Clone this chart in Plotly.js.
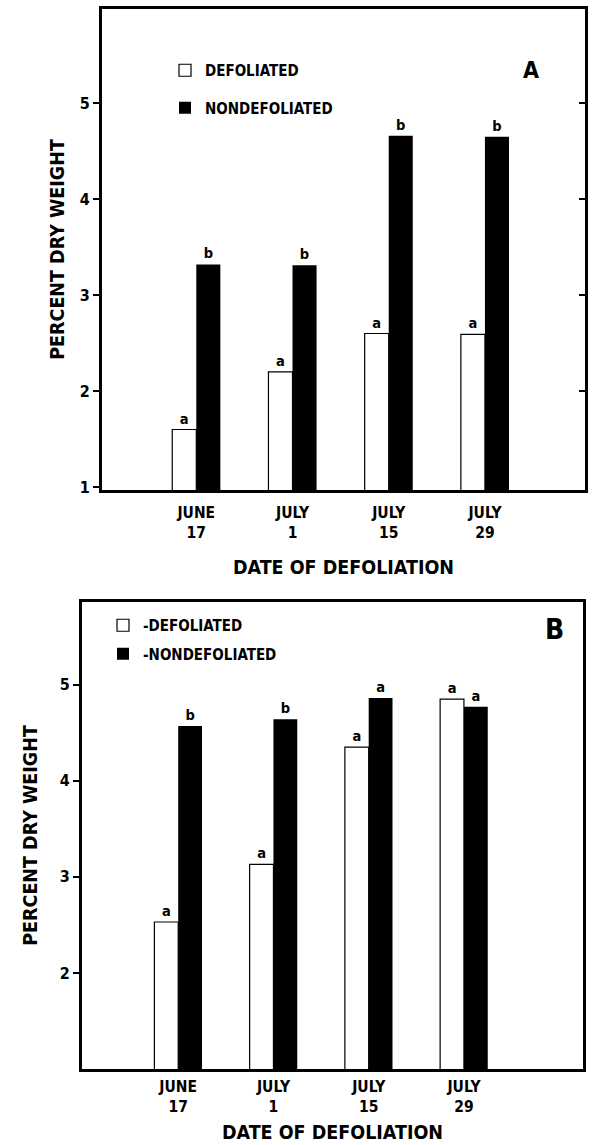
<!DOCTYPE html>
<html>
<head>
<meta charset="utf-8">
<script src="https://cdn.plot.ly/plotly-3.0.1.min.js"></script>
<style>
  html, body { margin: 0; padding: 0; background: #fff; }
  #chart { width: 598px; height: 1145px; }
</style>
</head>
<body>
<div id="chart"></div>
<script>
// ---- data ----
const categories = ["JUNE<br>17", "JULY<br>1", "JULY<br>15", "JULY<br>29"];

const defoliatedA = [1.60, 2.20, 2.60, 2.59];
const nondefoliatedA = [3.32, 3.31, 4.66, 4.65];
const lettersDefoliatedA = ["a", "a", "a", "a"];
const lettersNondefoliatedA = ["b", "b", "b", "b"];

const defoliatedB = [2.53, 3.13, 4.35, 4.85];
const nondefoliatedB = [4.57, 4.64, 4.86, 4.77];
const lettersDefoliatedB = ["a", "a", "a", "a"];
const lettersNondefoliatedB = ["b", "b", "a", "a"];

const yTicksA = [1, 2, 3, 4, 5];
const yTicksB = [2, 3, 4, 5];
const yInnerTicksA = [2, 3, 4, 5];

const legendNamesA = ["DEFOLIATED", "NONDEFOLIATED"];
const legendNamesB = ["-DEFOLIATED", "-NONDEFOLIATED"];

// ---- styling ----
const FONT = "'Liberation Sans Narrow', 'DejaVu Sans Condensed', 'Arial Narrow', sans-serif";
const INK = "#000";

function barTrace(name, y, letters, filled, xa, ya, legend, group) {
  return {
    type: "bar",
    name: name,
    x: categories,
    y: y,
    text: letters,
    textposition: "outside",
    cliponaxis: false,
    textfont: { family: FONT, size: 14.5, color: INK, weight: "bold" },
    marker: {
      color: filled ? INK : "#fff",
      line: { color: INK, width: filled ? 0 : 1.2 }
    },
    xaxis: xa,
    yaxis: ya,
    legend: legend,
    legendgroup: group,
    hoverinfo: "skip"
  };
}

const data = [
  barTrace(legendNamesA[0], defoliatedA, lettersDefoliatedA, false, "x", "y", "legend", "a1"),
  barTrace(legendNamesA[1], nondefoliatedA, lettersNondefoliatedA, true, "x", "y", "legend", "a2"),
  barTrace(legendNamesB[0], defoliatedB, lettersDefoliatedB, false, "x2", "y2", "legend2", "b1"),
  barTrace(legendNamesB[1], nondefoliatedB, lettersNondefoliatedB, true, "x2", "y2", "legend2", "b2"),
  // empty carrier so the inner right-hand tick axis of panel A is drawn
  { type: "scatter", mode: "markers", x: [], y: [], xaxis: "x", yaxis: "y3",
    showlegend: false, hoverinfo: "skip" }
];

const xTickFont = { family: FONT, size: 15.5, color: INK, weight: "bold" };
const yTickFont = { family: FONT, size: 16, color: INK, weight: "bold" };
const titleFont = { family: FONT, size: 19.5, color: INK, weight: "bold" };

function xAxis(domain, range, anchor, labelStandoff, titleStandoff) {
  return {
    domain: domain, range: range, anchor: anchor,
    type: "category",
    showline: true, mirror: true, linewidth: 3, linecolor: INK,
    showgrid: false, zeroline: false,
    ticks: "", ticklabelstandoff: labelStandoff,
    tickfont: xTickFont,
    title: { text: "DATE OF DEFOLIATION", font: titleFont, standoff: titleStandoff },
    fixedrange: true
  };
}
function yAxis(domain, range, anchor, tickvals, titleStandoff) {
  return {
    domain: domain, range: range, anchor: anchor,
    showline: true, mirror: true, linewidth: 3, linecolor: INK,
    showgrid: false, zeroline: false,
    tickvals: tickvals, ticktext: tickvals.map(String),
    ticks: "outside", ticklen: 6, tickwidth: 2, tickcolor: INK,
    tickfont: yTickFont,
    title: { text: "PERCENT DRY WEIGHT", font: titleFont, standoff: titleStandoff },
    fixedrange: true
  };
}

const H = 1145, W = 598;
const legendFont = { family: FONT, size: 15, color: INK, weight: "bold" };
const layout = {
  width: W, height: H,
  margin: { l: 0, r: 0, t: 0, b: 0 },
  paper_bgcolor: "#fff", plot_bgcolor: "#fff",
  barmode: "group", bargap: 0.5, bargroupgap: 0,
  showlegend: true,
  font: { family: FONT, color: INK },
  xaxis: xAxis([102 / W, 585 / W], [-0.98, 4.04], "y", 6, 20),
  yaxis: yAxis([1 - 490 / H, 1 - 9 / H], [0.97, 5.98], "x", yTicksA, 10),
  yaxis3: {
    overlaying: "y", anchor: "x", side: "right",
    range: [0.97, 5.98], tickvals: yInnerTicksA, ticktext: yInnerTicksA.map(String),
    ticks: "inside", ticklen: 6, tickwidth: 2, tickcolor: INK,
    showticklabels: false, showline: false, showgrid: false, zeroline: false,
    fixedrange: true
  },
  xaxis2: xAxis([82 / W, 583 / W], [-1.01, 4.25], "y2", 1, 11),
  yaxis2: yAxis([1 - 1069 / H, 1 - 602 / H], [1.0, 5.86], "x2", yTicksB, 17),
  legend: {
    x: 165 / W, y: 1 - 54 / H, xanchor: "left", yanchor: "top",
    bgcolor: "rgba(0,0,0,0)", borderwidth: 0,
    font: legendFont,
    tracegroupgap: 15, traceorder: "grouped"
  },
  legend2: {
    x: 103 / W, y: 1 - 609 / H, xanchor: "left", yanchor: "top",
    bgcolor: "rgba(0,0,0,0)", borderwidth: 0,
    font: legendFont,
    tracegroupgap: 6, traceorder: "grouped"
  },
  annotations: [
    { text: "A", xref: "paper", yref: "paper", x: 531 / W, y: 1 - 70 / H,
      xanchor: "center", yanchor: "middle", showarrow: false,
      font: { family: FONT, size: 23, color: INK, weight: "bold" } },
    { text: "B", xref: "paper", yref: "paper", x: 554 / W, y: 1 - 629 / H,
      xanchor: "center", yanchor: "middle", showarrow: false,
      font: { family: FONT, size: 28, color: INK, weight: "bold" } }
  ]
};

Plotly.newPlot("chart", data, layout, { displayModeBar: false, staticPlot: true });
</script>
</body>
</html>
